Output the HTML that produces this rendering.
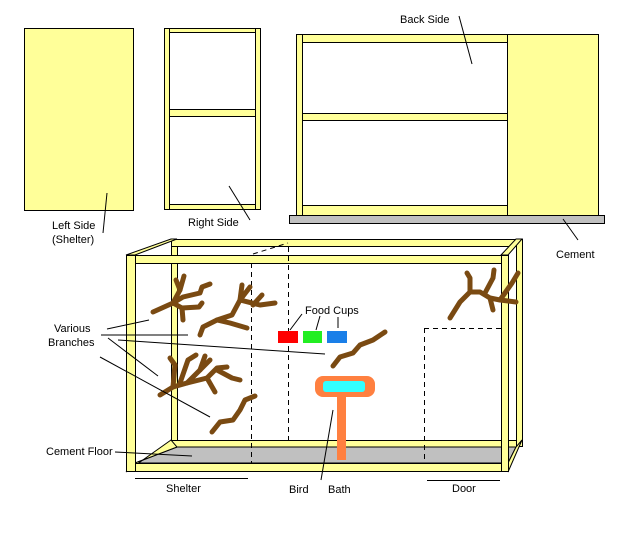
<!DOCTYPE html>
<html><head><meta charset="utf-8"><style>
html,body{margin:0;padding:0;background:#fff;}
svg{display:block;}
text{font-family:"Liberation Sans",sans-serif;font-size:11px;fill:#000;}
</style></head><body>
<svg width="638" height="536" viewBox="0 0 638 536" xmlns="http://www.w3.org/2000/svg">
<rect width="638" height="536" fill="#fff"/>
<g stroke="#000" stroke-width="1" fill="#ffff99">
<!-- Left side -->
<rect x="24.5" y="28.5" width="109" height="182"/>
<!-- Right side frame -->
<rect x="164.5" y="28.5" width="5" height="181"/>
<rect x="255.5" y="28.5" width="5" height="181"/>
<rect x="169.5" y="28.5" width="86" height="4"/>
<rect x="169.5" y="109.5" width="86" height="7"/>
<rect x="169.5" y="204.5" width="86" height="5"/>
<!-- Back side -->
<rect x="296.5" y="34.5" width="6" height="181"/>
<rect x="507.5" y="34.5" width="91" height="181"/>
<rect x="302.5" y="34.5" width="205" height="8"/>
<rect x="302.5" y="113.5" width="205" height="7"/>
<rect x="302.5" y="205.5" width="205" height="10"/>
<rect x="289.5" y="215.5" width="315" height="8" fill="#c0c0c0"/>
</g>
<g stroke="#000" stroke-width="1" fill="none">
<line x1="459" y1="16" x2="472" y2="64"/>
<line x1="563" y1="219" x2="578" y2="240"/>
<line x1="107" y1="193" x2="103" y2="233"/>
<line x1="229" y1="186" x2="250" y2="220"/>
</g>
<!-- main cage -->
<g stroke="#000" stroke-width="1" fill="#ffff99">
<!-- back frame -->
<rect x="171.5" y="239.5" width="351" height="7"/>
<rect x="171.5" y="246.5" width="6" height="194"/>
<rect x="516.5" y="239.5" width="6" height="207"/>
<rect x="171.5" y="440.5" width="345" height="7"/>
<!-- floor -->
<polygon points="135,463 177,447 516,447 508,463" fill="#c0c0c0"/>
<!-- corner diagonals -->
<polygon points="126,255 171,239 177,239 135,255"/>
<polygon points="501,255 516,239 522,239 508,255"/>
<polygon points="126,472 171,440 177,447 135,463"/>
<polygon points="508,463 516,447 522,440 508,472"/>
<!-- front frame -->
<rect x="126.5" y="255.5" width="9" height="216"/>
<rect x="501.5" y="255.5" width="7" height="216"/>
<rect x="135.5" y="255.5" width="366" height="8"/>
<rect x="135.5" y="463.5" width="366" height="8"/>
</g>
<g stroke="#000" stroke-width="1" stroke-dasharray="5,4" fill="none">
<line x1="251.5" y1="263" x2="251.5" y2="463"/>
<line x1="288.5" y1="247" x2="288.5" y2="440"/>
<line x1="253" y1="254" x2="288" y2="243"/>
<line x1="424.5" y1="328" x2="424.5" y2="463"/>
<line x1="424" y1="328.5" x2="501" y2="328.5"/>
</g>
<!-- branches -->
<g stroke="#7a4a12" stroke-width="5" fill="none" stroke-linecap="round" stroke-linejoin="round">
<polyline points="153,312 173,303 183,297 200,293 202,287 210,284"/>
<polyline points="173,303 180,290 184,276"/>
<polyline points="180,290 176,280"/>
<polyline points="173,303 182,308 199,307 202,303"/>
<polyline points="182,308 183,320"/>
<polyline points="200,335 203,327 217,320 230,323 247,328"/>
<polyline points="217,320 232,315 240,300 242,285"/>
<polyline points="240,300 250,287"/>
<polyline points="240,300 260,305 275,303"/>
<polyline points="253,305 262,295"/>
<polyline points="160,395 173,387 187,383 207,378 217,368 227,367"/>
<polyline points="173,387 175,365 170,358"/>
<polyline points="180,383 188,360 196,355"/>
<polyline points="187,383 200,370 205,356"/>
<polyline points="200,370 210,360"/>
<polyline points="207,378 215,392"/>
<polyline points="217,370 232,378 240,380"/>
<polyline points="212,432 220,422 233,420 240,410 245,400 255,396"/>
<polyline points="333,366 340,357 353,353 360,345 373,340 385,332"/>
<polyline points="450,318 460,302 470,292 480,292 490,298 500,300 516,302"/>
<polyline points="470,292 470,278 467,273"/>
<polyline points="485,293 493,278 494,270"/>
<polyline points="500,300 512,283 518,273"/>
<polyline points="490,298 493,310"/>
</g>
<!-- food cups -->
<rect x="278" y="331" width="20" height="12" fill="#ff0000"/>
<rect x="303" y="331" width="19" height="12" fill="#22ee22"/>
<rect x="327" y="331" width="20" height="12" fill="#1a7fe8"/>
<!-- bird bath -->
<rect x="337" y="395" width="9" height="65" fill="#ff8040"/>
<rect x="315" y="376" width="60" height="21" rx="8" fill="#ff8040"/>
<rect x="323" y="381" width="42" height="11" rx="3" fill="#33ffff"/>
<!-- leader lines -->
<g stroke="#000" stroke-width="1" fill="none">
<line x1="107" y1="329" x2="149" y2="320"/>
<line x1="101" y1="335" x2="188" y2="335"/>
<line x1="118" y1="340" x2="325" y2="354"/>
<line x1="108" y1="338" x2="158" y2="376"/>
<line x1="100" y1="357" x2="210" y2="417"/>
<line x1="115" y1="452" x2="192" y2="456"/>
<line x1="135" y1="478.5" x2="248" y2="478.5"/>
<line x1="427" y1="480.5" x2="500" y2="480.5"/>
<line x1="333" y1="410" x2="321" y2="480"/>
<line x1="302" y1="314" x2="290" y2="330"/>
<line x1="320" y1="316" x2="316" y2="330"/>
<line x1="338" y1="317" x2="338" y2="328"/>
</g>
<text x="400" y="23">Back Side</text>
<text x="52" y="229">Left Side</text>
<text x="52" y="243">(Shelter)</text>
<text x="188" y="226">Right Side</text>
<text x="556" y="258">Cement</text>
<text x="305" y="314">Food Cups</text>
<text x="54" y="332">Various</text>
<text x="48" y="346">Branches</text>
<text x="46" y="455">Cement Floor</text>
<text x="166" y="492">Shelter</text>
<text x="289" y="493">Bird</text>
<text x="328" y="493">Bath</text>
<text x="452" y="492">Door</text>
</svg>
</body></html>
